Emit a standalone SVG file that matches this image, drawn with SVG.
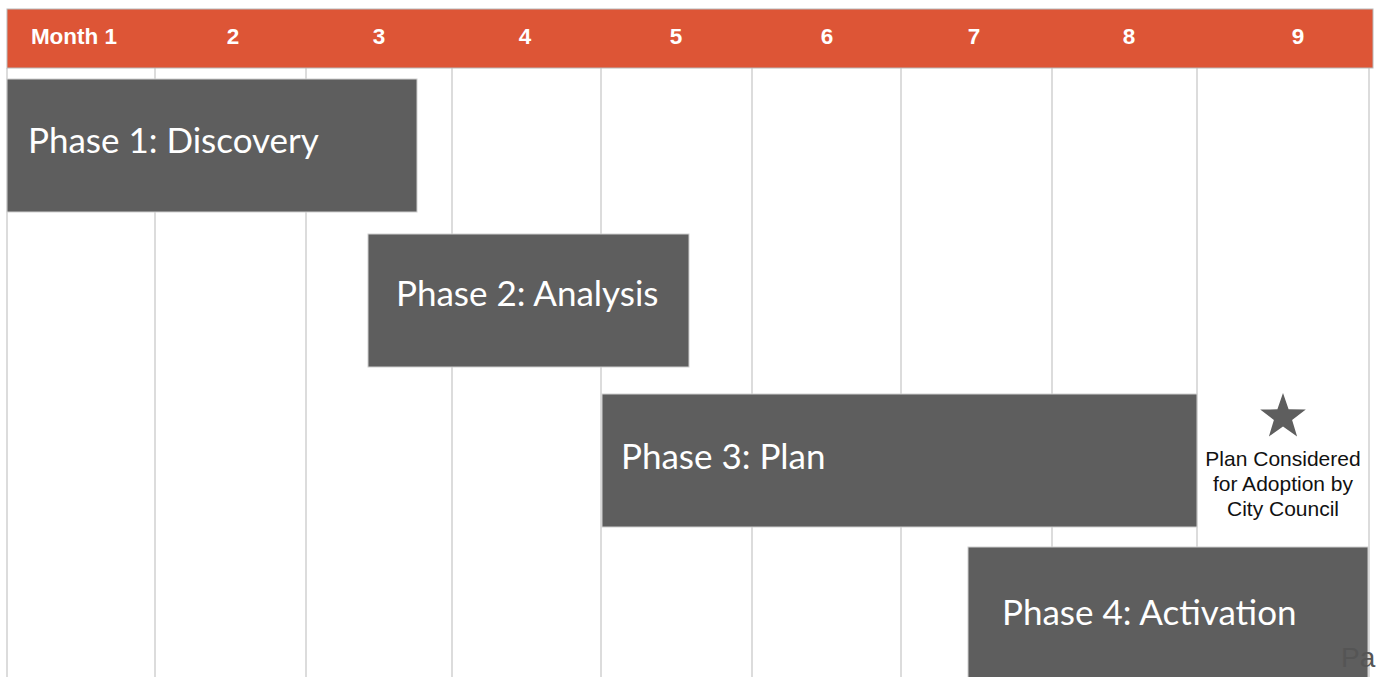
<svg xmlns="http://www.w3.org/2000/svg" width="1376" height="677" viewBox="0 0 1376 677">
  <style>
    .grid { stroke: #dcdcdc; stroke-width: 2; }
    .hdr { fill: #ffffff; font-family: "Liberation Sans", Arial, sans-serif; font-weight: bold; font-size: 22.5px; text-anchor: middle; }
    .bar { fill: #5e5e5e; stroke: #cfcfcf; stroke-width: 1; }
    .bar-label { fill: #ffffff; font-family: Lato, "Open Sans", sans-serif; font-size: 35px; }
    .note { fill: #111111; font-family: "Liberation Sans", Arial, sans-serif; font-size: 21px; text-anchor: middle; }
  </style>

  <rect x="0" y="0" width="1376" height="677" fill="#ffffff"/>

  <!-- month column dividers -->
  <g id="grid">
    <line class="grid" x1="7" y1="68" x2="7" y2="677"/>
    <line class="grid" x1="155" y1="68" x2="155" y2="677"/>
    <line class="grid" x1="306" y1="68" x2="306" y2="677"/>
    <line class="grid" x1="452" y1="68" x2="452" y2="677"/>
    <line class="grid" x1="601" y1="68" x2="601" y2="677"/>
    <line class="grid" x1="752" y1="68" x2="752" y2="677"/>
    <line class="grid" x1="901" y1="68" x2="901" y2="677"/>
    <line class="grid" x1="1052" y1="68" x2="1052" y2="677"/>
    <line class="grid" x1="1197" y1="68" x2="1197" y2="677"/>
    <line class="grid" x1="1369" y1="68" x2="1369" y2="677"/>
  </g>

  <!-- month header band -->
  <g id="header">
    <rect x="7" y="9" width="1366" height="59" fill="#dd5536" stroke="#b9b9b9" stroke-width="1"/>
    <text class="hdr" x="74" y="44">Month 1</text>
    <text class="hdr" x="233" y="44">2</text>
    <text class="hdr" x="379" y="44">3</text>
    <text class="hdr" x="525" y="44">4</text>
    <text class="hdr" x="676" y="44">5</text>
    <text class="hdr" x="827" y="44">6</text>
    <text class="hdr" x="974" y="44">7</text>
    <text class="hdr" x="1129" y="44">8</text>
    <text class="hdr" x="1298" y="44">9</text>
  </g>

  <g id="phase1">
    <rect class="bar" x="7" y="79" width="410" height="133"/>
    <text class="bar-label" x="28" y="153">Phase 1: Discovery</text>
  </g>

  <g id="phase2">
    <rect class="bar" x="368" y="234" width="321" height="133"/>
    <text class="bar-label" x="396" y="306">Phase 2: Analysis</text>
  </g>

  <g id="phase3">
    <rect class="bar" x="602" y="394" width="595" height="133"/>
    <text class="bar-label" x="621" y="469">Phase 3: Plan</text>
  </g>

  <g id="phase4">
    <rect class="bar" x="968" y="547" width="400" height="140"/>
    <text class="bar-label" x="1002" y="625">Phase 4: Activation</text>
  </g>

  <!-- adoption milestone -->
  <g id="milestone">
    <polygon fill="#5e5e5e" points="1283,393 1288.6,409.3 1305.8,409.6 1292.1,420 1297.1,436.4 1283,426.6 1268.9,436.4 1273.9,420 1260.2,409.6 1277.4,409.3"/>
    <text class="note" x="1283" y="466">Plan Considered</text>
    <text class="note" x="1283" y="491">for Adoption by</text>
    <text class="note" x="1283" y="516">City Council</text>
  </g>

  <text x="1341" y="667" fill="#555555" font-family="'Liberation Sans', Arial, sans-serif" font-size="28">Pa</text>
</svg>
